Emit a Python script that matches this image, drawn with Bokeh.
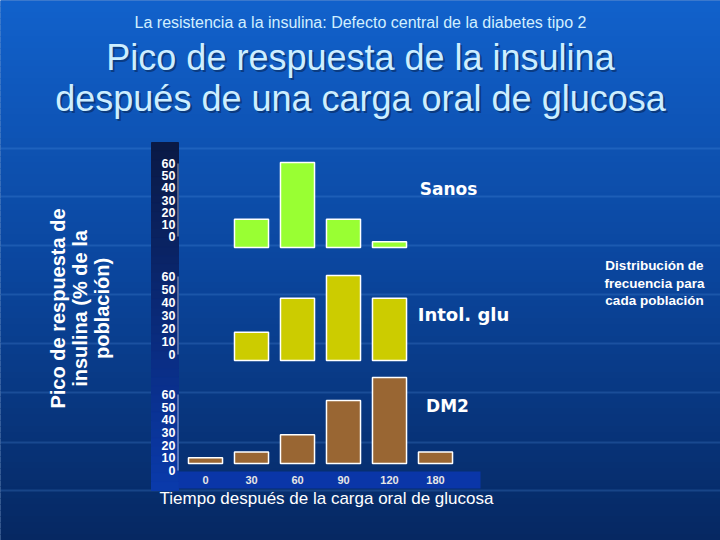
import numpy as np
from bokeh.plotting import figure
from bokeh.models import Range1d, ColumnDataSource
from bokeh.core.properties import value
from bokeh.embed import file_html
from bokeh.resources import INLINE

# ---------------- data ----------------
times = ["0", "30", "60", "90", "120", "180"]
sanos = [0, 20, 60, 20, 4, 0]
intol = [0, 20, 44, 60, 44, 0]
dm2 = [4, 8, 20, 44, 60, 8]
y_ticks = [0, 10, 20, 30, 40, 50, 60]

subtitle = "La resistencia a la insulina: Defecto central de la diabetes tipo 2"
title_lines = ["Pico de respuesta de la insulina", "después de una carga oral de glucosa"]
ylabel_lines = ["Pico de respuesta de", "insulina (% de la", "población)"]
xlabel = "Tiempo después de la carga oral de glucosa"
panel_names = ["Sanos", "Intol. glu", "DM2"]
note_lines = ["Distribución de", "frecuencia para", "cada población"]

# ---------------- layout ----------------
W, H = 720, 540
OFF = 0  # Bokeh's page template has no body margin


def X(px):
    return px - OFF


def Y(py):
    return py - OFF


def vrange(y0_ref, y60_ref):
    """Range mapping value 0 -> y0_ref and 60 -> y60_ref (pixels from top)."""
    y0 = Y(y0_ref)
    y60 = Y(y60_ref)
    k = (y0 - y60) / 60.0
    start = -(H - y0) / k
    return Range1d(start=start, end=start + H / k)


p = figure(width=W, height=H, x_range=Range1d(0, W), y_range=Range1d(H, 0),
           output_backend="svg", toolbar_location=None, min_border=0,
           x_axis_location=None, y_axis_location=None)
p.grid.visible = False
p.outline_line_color = None
p.background_fill_color = "#0b4aa0"
p.border_fill_color = "#0b4aa0"

# bar x scale: category index -> pixel
x0_px, step_px = X(205), 46.0
xs = -x0_px / step_px
p.extra_x_ranges = {"t": Range1d(start=xs, end=xs + W / step_px)}

panels = [
    dict(name="sanos", vals=sanos, color="#99ff33", bar=(247, 162), lab=(236, 163),
         label_pos=(448, 188), label_size="17px"),
    dict(name="intol", vals=intol, color="#cccc00", bar=(360, 275), lab=(354, 276),
         label_pos=(463, 314), label_size="18px"),
    dict(name="dm2", vals=dm2, color="#996633", bar=(463, 377), lab=(470, 394),
         label_pos=(447, 405), label_size="17px"),
]
for pn in panels:
    p.extra_y_ranges[pn["name"]] = vrange(*pn["bar"])
    p.extra_y_ranges[pn["name"] + "_lab"] = vrange(*pn["lab"])

# ---------------- background gradient ----------------
n = 90
edges = np.linspace(0, H, n + 1)
stops_y = [0, H * 0.5, H]
stops_c = [(18, 98, 204), (11, 70, 158), (6, 40, 98)]
cols = []
for i in range(n):
    yc = (edges[i] + edges[i + 1]) / 2
    r = int(np.interp(yc, stops_y, [c[0] for c in stops_c]))
    g = int(np.interp(yc, stops_y, [c[1] for c in stops_c]))
    b = int(np.interp(yc, stops_y, [c[2] for c in stops_c]))
    cols.append("#%02x%02x%02x" % (r, g, b))
p.quad(left=0, right=W, top=edges[:-1], bottom=edges[1:], fill_color=cols,
       line_color=cols, line_width=1)

# faint horizontal texture lines
hl = [148, 196, 245, 294, 343, 392, 442, 490]
p.segment(x0=0, x1=W, y0=[Y(v) for v in hl], y1=[Y(v) for v in hl],
          line_color="#5a9ae6", line_alpha=0.22, line_width=2)

# ---------------- axis strips ----------------
ns = 40
sedges = np.linspace(Y(142), Y(490), ns + 1)
scol = []
for i in range(ns):
    t = i / (ns - 1)
    r = 10
    g = int(26 + t * (58 - 26))
    b = int(70 + t * (170 - 70))
    scol.append("#%02x%02x%02x" % (r, g, b))
p.quad(left=X(151), right=X(178), top=sedges[:-1], bottom=sedges[1:],
       fill_color=scol, line_color=scol, line_width=1)
p.quad(left=X(178), right=X(480), top=Y(471), bottom=Y(488),
       fill_color="#0a36a8", line_color=None)

# ---------------- panels ----------------
idx = list(range(len(times)))
for k, pn in enumerate(panels):
    keep = [i for i, v in enumerate(pn["vals"]) if v > 0]
    src = ColumnDataSource(dict(x=[idx[i] for i in keep], top=[pn["vals"][i] for i in keep]))
    p.vbar(x="x", top="top", bottom=0, width=0.74, source=src,
           x_range_name="t", y_range_name=pn["name"],
           fill_color=pn["color"], line_color="white", line_width=1.5)
    # tick labels
    p.text(x=[X(175)] * len(y_ticks), y=y_ticks, text=[str(v) for v in y_ticks],
           y_range_name=pn["name"] + "_lab",
           text_font=value("Liberation Sans"), text_font_style="bold",
           text_font_size="12.5px", text_color="white",
           text_align="right", text_baseline="middle")
    p.segment(x0=X(177.5), x1=X(177.5), y0=y_ticks[0], y1=y_ticks[-1],
              y_range_name=pn["name"] + "_lab", line_color="white",
              line_alpha=0.6, line_width=1)
    lx, ly = pn["label_pos"]
    p.text(x=[X(lx)], y=[Y(ly)], text=[panel_names[k]],
           text_font=value("DejaVu Sans"), text_font_style="bold",
           text_font_size=pn["label_size"], text_color="white",
           text_align="center", text_baseline="middle")

# x tick labels
p.text(x=idx, y=[Y(479)] * len(idx), text=times, x_range_name="t",
       text_font=value("Liberation Sans"), text_font_style="bold",
       text_font_size="11px", text_color="#e6e6e6",
       text_align="center", text_baseline="middle")

# ---------------- titles ----------------
p.text(x=[X(360)], y=[Y(22)], text=[subtitle],
       text_font=value("Liberation Sans"),
       text_font_size="16px", text_color="#d2efff",
       text_align="center", text_baseline="middle")
for dx, dy, c, a in [(2, 2, "#06224f", 0.55), (0, 0, "#cdeeff", 1.0)]:
    p.text(x=[X(360) + dx] * 2, y=[Y(57) + dy, Y(98) + dy], text=title_lines,
           text_font=value("Liberation Sans"), text_font_size="36px",
           text_color=c, text_alpha=a,
           text_align="center", text_baseline="middle")

# y label (rotated)
p.text(x=[X(57), X(79), X(101)], y=[Y(308)] * 3, text=ylabel_lines, angle=np.pi / 2,
       text_font=value("Liberation Sans"), text_font_style="bold",
       text_font_size="20px", text_color="white",
       text_align="center", text_baseline="middle")

# x label
p.text(x=[X(326)], y=[Y(498)], text=[xlabel],
       text_font=value("Liberation Sans"), text_font_size="17px", text_color="white",
       text_align="center", text_baseline="middle")

# note
p.text(x=[X(654)] * 3, y=[Y(265), Y(283), Y(300)], text=note_lines,
       text_font=value("Liberation Sans"), text_font_style="bold",
       text_font_size="13.5px", text_color="white",
       text_align="center", text_baseline="middle")

open("out.html", "w").write(file_html(p, INLINE))
